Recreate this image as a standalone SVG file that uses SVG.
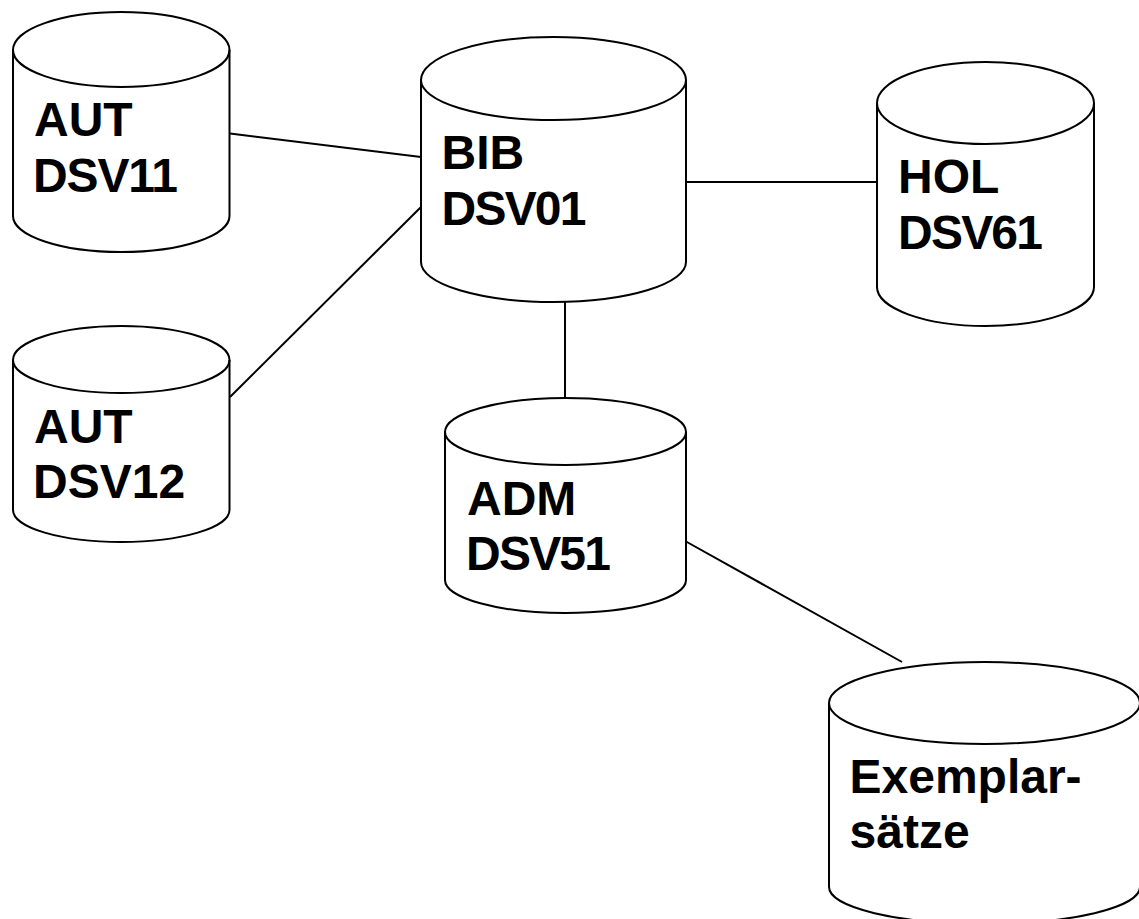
<svg xmlns="http://www.w3.org/2000/svg" width="1139" height="919" viewBox="0 0 1139 919">
<style>
.c{fill:#fff;stroke:#000;stroke-width:2}
.l{fill:none;stroke:#000;stroke-width:2}
text{font-family:"Liberation Sans",Arial,sans-serif;font-weight:bold;font-size:48px;fill:#000}
</style>
<rect width="1139" height="919" fill="#fff"/>
<g id="connectors">
<path class="l" d="M230 133.500L421 157"/>
<path class="l" d="M230 397L421 207"/>
<path class="l" d="M686 182H877"/>
<path class="l" d="M565 302V398"/>
<path class="l" d="M686 541.500L902 662"/>
</g>
<g id="aut11"><path class="c" d="M13 50A108.250 38 0 0 1 229.500 50V216A108.250 36 0 0 1 13 216Z"/><path class="l" d="M13 50A108.250 37 0 0 0 229.500 50"/><text x="34" y="136">AUT</text><text x="33" y="192" textLength="145">DSV11</text></g>
<g id="aut12"><path class="c" d="M13 360A108.250 34 0 0 1 229.500 360V510A108.250 32 0 0 1 13 510Z"/><path class="l" d="M13 360A108.250 33 0 0 0 229.500 360"/><text x="34" y="443">AUT</text><text x="33" y="498">DSV12</text></g>
<g id="bib"><path class="c" d="M421 80A132.500 43 0 0 1 686 80V262A132.500 40 0 0 1 421 262Z"/><path class="l" d="M421 80A132.500 40 0 0 0 686 80"/><text x="441.500" y="169">BIB</text><text x="441.500" y="225" textLength="145">DSV01</text></g>
<g id="hol"><path class="c" d="M877 103A108.500 41 0 0 1 1094 103V287A108.500 39 0 0 1 877 287Z"/><path class="l" d="M877 103A108.500 41 0 0 0 1094 103"/><text x="898" y="193">HOL</text><text x="898" y="249" textLength="145">DSV61</text></g>
<g id="adm"><path class="c" d="M445 432A120.500 34 0 0 1 686 432V580A120.500 33 0 0 1 445 580Z"/><path class="l" d="M445 432A120.500 33 0 0 0 686 432"/><text x="467" y="515">ADM</text><text x="466" y="570" textLength="145">DSV51</text></g>
<g id="exemplar"><path class="c" d="M829 703A155.500 41 0 0 1 1140 703V887A155.500 37 0 0 1 829 887Z"/><path class="l" d="M829 703A155.500 41 0 0 0 1140 703"/><text x="849.500" y="793">Exemplar-</text><text x="849.500" y="848">sätze</text></g>
</svg>
